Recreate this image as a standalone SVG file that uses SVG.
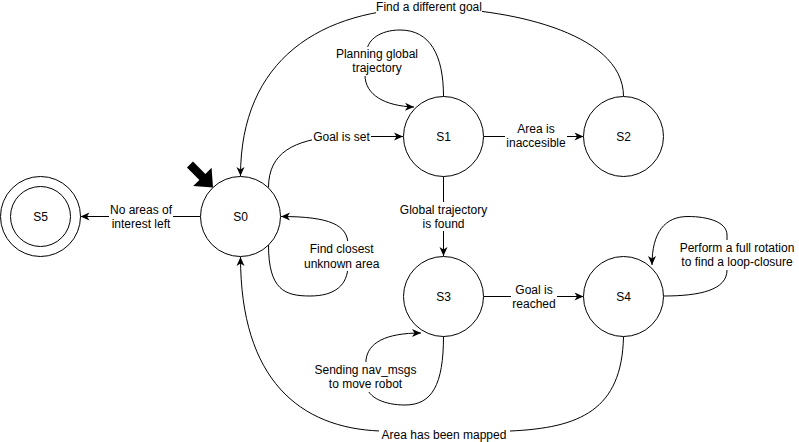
<svg xmlns="http://www.w3.org/2000/svg" width="799" height="442" viewBox="0 0 799 442">
<style>
text{font-family:"Liberation Sans",Arial,Helvetica,sans-serif;font-size:12px;fill:#000;text-anchor:middle}
.node circle{fill:#fff;stroke:#000;stroke-width:1}
.edge{fill:none;stroke:#000;stroke-width:1}
.bg{fill:#fff;stroke:none}
</style>
<defs>
<marker id="arr" viewBox="-10 -5 11 10" refX="0" refY="0" markerWidth="11" markerHeight="10" markerUnits="userSpaceOnUse" orient="auto">
<path d="M0,0 L-9,-4 L-6.5,0 L-9,4 Z" fill="#000"/>
</marker>
</defs>
<rect width="799" height="442" fill="#fff"/>
<g id="connectors">
<path class="edge" d="M 623.5 96.5 C 623.5 30 500 8 430 8 C 320 8 240.5 60 240.5 176" marker-end="url(#arr)"/>
<path class="edge" d="M 443.5 96.5 C 443.5 55 430 30 400 30 C 380 30 368 40 367 50 L 365 75 C 365 95 385 106 414 107" marker-end="url(#arr)"/>
<path class="edge" d="M 268.5 187.5 C 268.5 152 295 140 335 136.5 L 403 136.5" marker-end="url(#arr)"/>
<path class="edge" d="M 483.5 136.5 L 583.5 136.5" marker-end="url(#arr)"/>
<path class="edge" d="M 200.5 216.5 L 80.5 216.5" marker-end="url(#arr)"/>
<path class="edge" d="M 268.5 245 C 268.5 290 285 296 310 296 C 335 296 348 285 348 265 L 348 245 C 348 225 330 216.5 281 216.5" marker-end="url(#arr)"/>
<path class="edge" d="M 443.5 176.5 L 443.5 256" marker-end="url(#arr)"/>
<path class="edge" d="M 443.5 336 C 443.5 385 432 405 405 405 C 385 405 368 398 366 385 L 366 360 C 368 343 385 333 421 333" marker-end="url(#arr)"/>
<path class="edge" d="M 483.5 296.5 L 583.5 296.5" marker-end="url(#arr)"/>
<path class="edge" d="M 663.5 296 C 700 296 727 290 727 270 L 727 235 C 727 222 708 216.5 688 216.5 C 665 216.5 652 232 652 265" marker-end="url(#arr)"/>
<path class="edge" d="M 623.5 336.5 C 622 410 580 428 510 431 L 380 431 C 300 428 240.5 380 240.5 257" marker-end="url(#arr)"/>
</g>
<g id="labels">
<rect class="bg" x="376" y="1" width="106" height="14"/>
<text x="429" y="11">Find a different goal</text>
<rect class="bg" x="334" y="47" width="86" height="29"/>
<text x="377" y="58">Planning global</text>
<text x="377" y="72">trajectory</text>
<rect class="bg" x="312" y="129" width="59" height="15"/>
<text x="341.5" y="140.5">Goal is set</text>
<rect class="bg" x="505" y="122" width="62" height="29"/>
<text x="536" y="132.5">Area is</text>
<text x="536" y="147">inaccesible</text>
<rect class="bg" x="109" y="203" width="64" height="28"/>
<text x="141" y="213.5">No areas of</text>
<text x="141" y="227.5">interest left</text>
<rect class="bg" x="398" y="202" width="91" height="29"/>
<text x="443.5" y="213.5">Global trajectory</text>
<text x="443.5" y="227.5">is found</text>
<rect class="bg" x="302" y="241" width="80" height="30"/>
<text x="341.7" y="253">Find closest</text>
<text x="341.7" y="267.5">unknown area</text>
<rect class="bg" x="511" y="282" width="46" height="29"/>
<text x="534" y="293.5">Goal is</text>
<text x="534" y="307.5">reached</text>
<rect class="bg" x="680" y="240" width="116" height="30"/>
<text x="737" y="251.7">Perform a full rotation</text>
<text x="737" y="265.5">to find a loop-closure</text>
<rect class="bg" x="313" y="362" width="105" height="30"/>
<text x="365.5" y="373.5">Sending nav_msgs</text>
<text x="365.5" y="387.5">to move robot</text>
<rect class="bg" x="379" y="429" width="131" height="13"/>
<text x="444" y="439">Area has been mapped</text>
</g>
<g id="S0" class="node"><circle cx="240.5" cy="216.5" r="40"/><text x="240.5" y="220.5">S0</text></g>
<g id="S1" class="node"><circle cx="443.5" cy="136.5" r="40"/><text x="443.5" y="140.5">S1</text></g>
<g id="S2" class="node"><circle cx="623.5" cy="136.5" r="40"/><text x="623.5" y="140.5">S2</text></g>
<g id="S3" class="node"><circle cx="443.5" cy="296.5" r="40"/><text x="443.5" y="300.5">S3</text></g>
<g id="S4" class="node"><circle cx="623.5" cy="296.5" r="40"/><text x="623.5" y="300.5">S4</text></g>
<g id="S5" class="node"><circle cx="40.5" cy="216.5" r="40"/><circle cx="40.5" cy="216.5" r="30"/><text x="40.5" y="220.5">S5</text></g>
<g id="start-arrow"><polygon transform="translate(213,187.5) rotate(45)" points="0,0 -15,-13 -15,-4.25 -32.6,-4.25 -32.6,4.25 -15,4.25 -15,13" fill="#000"/></g>
</svg>
